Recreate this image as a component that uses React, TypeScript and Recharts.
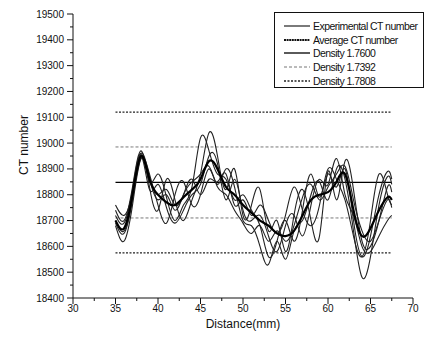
import { LineChart, Line, XAxis, YAxis, Legend } from "recharts"

const distance = [35, 36, 37, 38, 39, 40, 41, 42, 43, 44, 45, 46, 47, 48, 49, 50, 51, 52, 53, 54, 55, 56, 57, 58, 59, 60, 61, 62, 63, 64, 65, 66, 67, 67.5]

const average = [18700, 18670, 18800, 18950, 18860, 18800, 18770, 18760, 18790, 18820, 18860, 18930, 18900, 18830, 18800, 18760, 18730, 18700, 18680, 18650, 18640, 18660, 18720, 18780, 18800, 18810, 18850, 18880, 18740, 18640, 18670, 18740, 18790, 18780]

const exp1 = [18720, 18690, 18820, 18960, 18850, 18880, 18790, 18700, 18760, 18830, 19020, 18970, 18880, 18860, 18780, 18800, 18740, 18680, 18560, 18620, 18700, 18620, 18740, 18880, 18790, 18880, 18830, 18900, 18700, 18560, 18640, 18800, 18890, 18860]
const exp2 = [18740, 18700, 18830, 18970, 18830, 18740, 18860, 18780, 18700, 18780, 18880, 19040, 18950, 18820, 18900, 18720, 18760, 18820, 18660, 18700, 18580, 18720, 18820, 18700, 18640, 18890, 18780, 18930, 18820, 18620, 18600, 18700, 18830, 18810]
const exp3 = [18680, 18620, 18760, 18940, 18880, 18760, 18690, 18800, 18850, 18760, 18800, 18900, 18840, 18900, 18830, 18700, 18680, 18600, 18530, 18620, 18550, 18660, 18700, 18800, 18850, 18780, 18900, 18860, 18660, 18480, 18560, 18760, 18870, 18840]
const exp4 = [18700, 18660, 18790, 18950, 18820, 18840, 18750, 18690, 18740, 18800, 18840, 18950, 18920, 18780, 18860, 18740, 18700, 18720, 18640, 18580, 18680, 18720, 18640, 18760, 18860, 18840, 18940, 18800, 18720, 18600, 18580, 18640, 18700, 18720]
const exp5 = [18760, 18720, 18810, 18960, 18870, 18800, 18820, 18760, 18800, 18860, 18800, 18860, 18850, 18880, 18760, 18780, 18720, 18760, 18700, 18650, 18720, 18830, 18740, 18680, 18760, 18900, 18860, 18780, 18640, 18560, 18700, 18880, 18800, 18760]
const exp6 = [18690, 18650, 18780, 18940, 18860, 18780, 18800, 18740, 18800, 18850, 18880, 18910, 18830, 18800, 18740, 18690, 18650, 18680, 18620, 18660, 18620, 18680, 18790, 18840, 18780, 18830, 18880, 18910, 18780, 18660, 18620, 18700, 18780, 18750]

const density1760 = 18848
const density1739 = [18710, 18985]
const density1781 = [18575, 19120]

const xTicks = [30, 32.5, 35, 37.5, 40, 42.5, 45, 47.5, 50, 52.5, 55, 57.5, 60, 62.5, 65, 67.5, 70]
const yTicks = [18400, 18450, 18500, 18550, 18600, 18650, 18700, 18750, 18800, 18850, 18900, 18950, 19000, 19050, 19100, 19150, 19200, 19250, 19300, 19350, 19400, 19450, 19500]

const expSeries = [exp1, exp2, exp3, exp4, exp5, exp6]

const rows = distance.map((d, i) => {
  const row: Record<string, number> = {
    d,
    avg: average[i],
    d1760: density1760,
    d1739a: density1739[0],
    d1739b: density1739[1],
    d1781a: density1781[0],
    d1781b: density1781[1],
  }
  expSeries.forEach((s, k) => {
    row[`e${k}`] = s[i]
  })
  return row
})

const font = '"Liberation Sans", Arial, sans-serif'
const ink = "#111"

function YTick(props: any) {
  const { x, y, payload } = props
  const major = payload.value % 100 === 0
  return (
    <g>
      <line x1={x - (major ? 6 : 3)} x2={x} y1={y} y2={y} stroke={ink} />
      {major && (
        <text x={x - 9} y={y} textAnchor="end" dominantBaseline="central" fontSize={10} fontFamily={font} fill={ink}>
          {payload.value}
        </text>
      )}
    </g>
  )
}

function XTick(props: any) {
  const { x, y, payload } = props
  const major = payload.value % 5 === 0
  return (
    <g>
      <line x1={x} x2={x} y1={y} y2={y + (major ? 6 : 3)} stroke={ink} />
      {major && (
        <text x={x} y={y + 14} textAnchor="middle" fontSize={10} fontFamily={font} fill={ink}>
          {payload.value}
        </text>
      )}
    </g>
  )
}

const legendItems = [
  { name: "Experimental CT number", width: 1.2, dash: undefined, color: "#222" },
  { name: "Average CT number", width: 2, dash: "2 0.6", color: "#111" },
  { name: "Density 1.7600", width: 1.3, dash: undefined, color: "#000" },
  { name: "Density 1.7392", width: 1, dash: "3 2", color: "#777" },
  { name: "Density 1.7808", width: 1.3, dash: "2 1.5", color: "#222" },
]

function LegendBox() {
  return (
    <div style={{ border: "1px solid #111", width: 150, height: 76, boxSizing: "border-box", padding: "6px 0 0 8px", background: "#fff" }}>
      {legendItems.map((it) => (
        <div key={it.name} style={{ display: "flex", alignItems: "center", height: 13.7, whiteSpace: "nowrap" }}>
          <svg width={28} height={6}>
            <line x1={1} x2={27} y1={3} y2={3} stroke={it.color} strokeWidth={it.width} strokeDasharray={it.dash} />
          </svg>
          <span style={{ fontFamily: font, fontSize: 10.5, color: ink, marginLeft: 2, letterSpacing: -0.55 }}>{it.name}</span>
        </div>
      ))}
    </div>
  )
}

export default function App() {
  return (
    <div style={{ width: 437, height: 340, background: "#fff" }}>
      <style>{`body{margin:0}`}</style>
      <LineChart width={437} height={340} data={rows} margin={{ top: 14, right: 24, bottom: 12, left: 0 }}>
        <XAxis
          dataKey="d"
          type="number"
          domain={[30, 70]}
          ticks={xTicks}
          interval={0}
          height={30}
          tickSize={0}
          tickMargin={0}
          tickLine={false}
          tick={<XTick />}
          axisLine={{ stroke: ink }}
          label={{ value: "Distance(mm)", position: "insideBottom", offset: 0, fontSize: 12, fontFamily: font, fill: ink }}
        />
        <YAxis
          type="number"
          domain={[18400, 19500]}
          ticks={yTicks}
          interval={0}
          width={73}
          tickSize={0}
          tickMargin={0}
          tickLine={false}
          tick={<YTick />}
          axisLine={{ stroke: ink }}
          label={{
            content: () => (
              <text x={24} y={145} transform="rotate(-90 24 145)" textAnchor="middle" dominantBaseline="central" fontSize={12} fontFamily={font} fill={ink}>
                CT number
              </text>
            ),
          }}
        />
        <Legend
          layout="horizontal"
          verticalAlign="middle"
          align="center"
          wrapperStyle={{ left: 274, top: 12, width: 150, height: 76 }}
          content={() => <LegendBox />}
        />
        <Line dataKey="d1781b" stroke="#222" strokeWidth={1.3} strokeDasharray="2 1.5" dot={false} isAnimationActive={false} />
        <Line dataKey="d1739b" stroke="#777" strokeWidth={1} strokeDasharray="3 2" dot={false} isAnimationActive={false} />
        <Line dataKey="d1760" stroke="#000" strokeWidth={1.3} dot={false} isAnimationActive={false} />
        <Line dataKey="d1739a" stroke="#777" strokeWidth={1} strokeDasharray="3 2" dot={false} isAnimationActive={false} />
        <Line dataKey="d1781a" stroke="#222" strokeWidth={1.3} strokeDasharray="2 1.5" dot={false} isAnimationActive={false} />
        {expSeries.map((_, k) => (
          <Line key={k} dataKey={`e${k}`} type="natural" stroke="#222" strokeWidth={1.1} dot={false} isAnimationActive={false} />
        ))}
        <Line dataKey="avg" type="natural" stroke="#000" strokeWidth={2.2} dot={false} isAnimationActive={false} />
      </LineChart>
    </div>
  )
}
